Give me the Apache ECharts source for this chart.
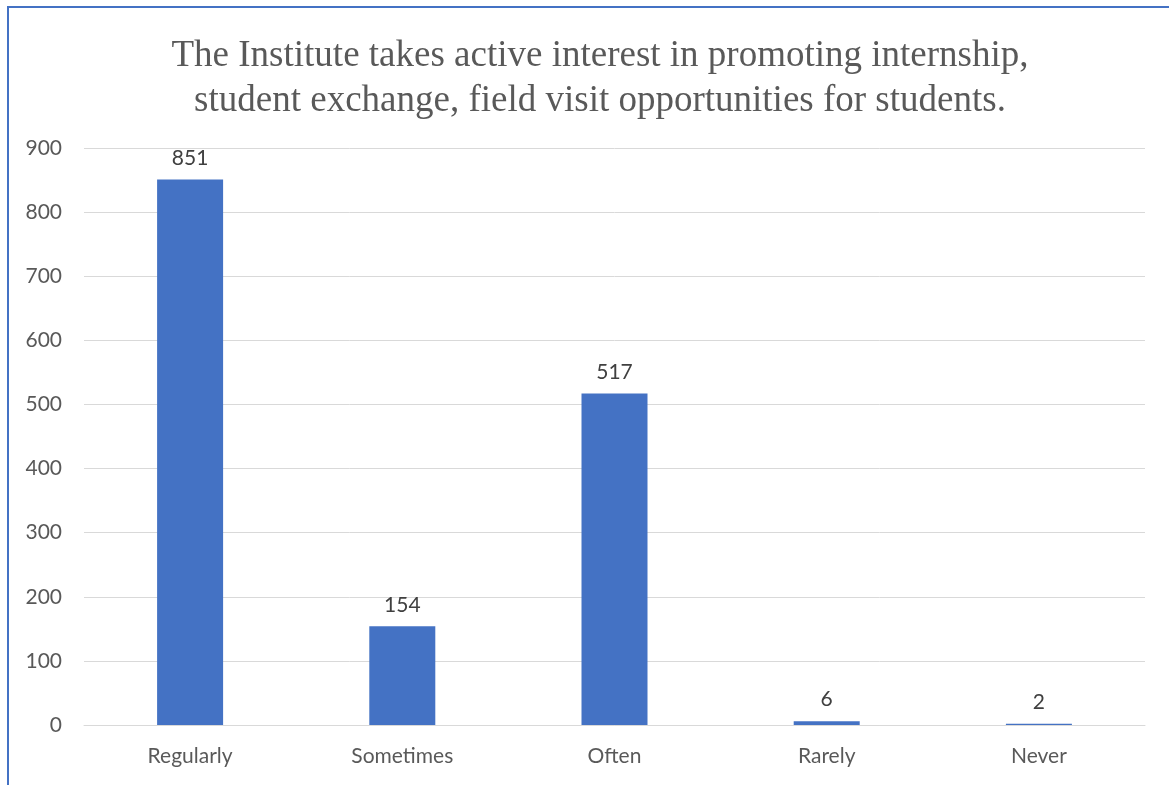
<!DOCTYPE html>
<html>
<head>
<meta charset="utf-8">
<script src="https://cdn.jsdelivr.net/npm/echarts@6/dist/echarts.min.js"></script>
<style>
  html, body { margin: 0; padding: 0; background: #fff; }
  #frame {
    position: absolute; left: 7px; top: 6px; width: 1200px; height: 800px;
    border-left: 2px solid #4472C4; border-top: 2px solid #4472C4;
  }
  #main { position: absolute; left: 0; top: 0; width: 1169px; height: 785px; }
</style>
</head>
<body>
<div id="frame"></div>
<div id="main"></div>
<script>
const categories = ['Regularly', 'Sometimes', 'Often', 'Rarely', 'Never']
const counts = [851, 154, 517, 6, 2]
const titleText = 'The Institute takes active interest in promoting internship,\nstudent exchange, field visit opportunities for students.'

const myChart = echarts.init(document.getElementById('main'))
myChart.setOption({
    animation: false,
    title: {
        text: titleText,
        left: 595,
        textAlign: 'center',
        top: 29,
        textStyle: {
            fontFamily: 'Liberation Serif',
            fontWeight: 'normal',
            fontSize: 37,
            lineHeight: 45,
            color: '#595959'
        }
    },
    grid: {
        left: 84,
        right: 24,
        top: 148,
        bottom: 60
    },
    xAxis: {
        type: 'category',
        data: categories,
        axisLine: { lineStyle: { color: '#D9D9D9', width: 1 } },
        axisTick: { show: false },
        axisLabel: {
            fontFamily: 'Lato',
            fontSize: 21,
            color: '#595959',
            margin: 21
        }
    },
    yAxis: {
        type: 'value',
        min: 0,
        max: 900,
        interval: 100,
        axisLine: { show: false },
        axisTick: { show: false },
        splitLine: { lineStyle: { color: '#D9D9D9', width: 1 } },
        axisLabel: {
            fontFamily: 'Lato',
            fontSize: 21,
            color: '#595959',
            margin: 22
        }
    },
    series: [
        {
            type: 'bar',
            data: counts,
            barWidth: 66,
            itemStyle: { color: '#4472C4' },
            label: {
                show: true,
                position: 'top',
                distance: 11,
                fontFamily: 'Lato',
                fontSize: 21,
                color: '#404040'
            }
        }
    ]
})
</script>
</body>
</html>
